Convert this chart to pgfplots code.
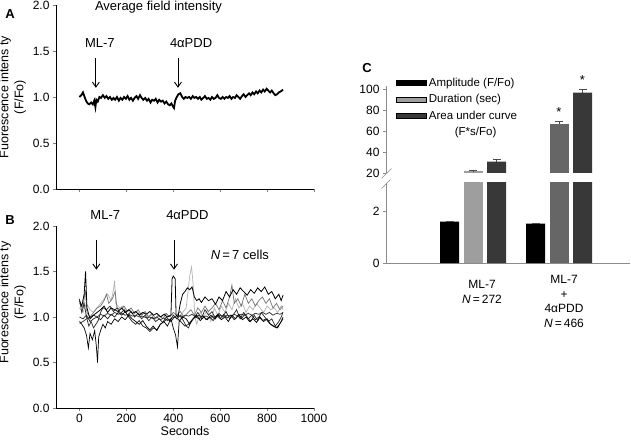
\documentclass[border=0pt]{standalone}
\usepackage{fontspec}
\setmainfont{Liberation Sans}
\usepackage{pgfplots}
\pgfplotsset{compat=1.18}
\usetikzlibrary{arrows.meta}
\pgfkeys{/pgf/number format/assume math mode=true}
\definecolor{durL}{gray}{0.62}
\definecolor{durD}{gray}{0.40}
\definecolor{aucC}{gray}{0.22}
\definecolor{axg}{gray}{0.55}
\newcommand\tf{\fontsize{12}{14}\selectfont}
\newcommand\af{\fontsize{13}{15}\selectfont}
\tikzset{arr/.style={-{Straight Barb[length=5pt,width=7pt]}, line width=0.9pt}}
\pgfplotsset{
  panelAB/.style={
    anchor=south west, scale only axis, width=258pt,
    axis x line*=bottom, axis y line*=left,
    xmin=-100, xmax=1000, ymin=0, ymax=2,
    xtick={0,200,...,1000}, ytick={0,0.5,...,2},
    tick align=outside, major tick length=3pt,
    tick label style={font=\tf},
    xticklabel style={/pgf/number format/1000 sep={}},
    yticklabel style={/pgf/number format/fixed, /pgf/number format/fixed zerofill, /pgf/number format/precision=1},
    ylabel={Fuorescence intens ty\\(F/Fo)},
    ylabel style={align=center, font=\fontsize{12.5}{15}\selectfont},
    clip=false,
  },
}
\begin{document}
\begin{tikzpicture}
\useasboundingbox (0pt,0pt) rectangle (631pt,442pt);
% ---------------- Panel A
\begin{axis}[panelAB, at={(56pt,253pt)}, height=184pt, xticklabels={,,,,,,}]
\addplot[black, line width=1.8pt] coordinates {
(0,1.00)(8,1.02)(15,1.05)(22,1.00)(28,0.96)(35,0.93)(42,0.92)(50,0.94)(57,0.92)(63,0.96)(68,0.89)(72,0.97)(78,0.95)(85,1.00)(92,0.99)(100,1.02)(108,0.99)(115,1.01)(123,0.98)(130,1.00)(138,0.97)(145,0.99)(152,0.97)(160,1.00)(168,0.96)(175,0.99)(183,0.97)(190,1.00)(198,0.98)(205,1.01)(213,0.97)(220,0.99)(228,0.96)(235,0.99)(243,1.01)(250,0.98)(258,1.02)(265,0.99)(272,0.97)(280,0.99)(288,0.96)(295,0.98)(303,0.94)(310,0.97)(318,0.96)(325,0.98)(333,0.94)(340,0.97)(348,0.95)(355,0.96)(363,0.93)(370,0.95)(378,0.92)(385,0.91)(392,0.93)(398,0.90)(403,0.88)(408,0.96)(415,1.00)(422,1.03)(430,1.04)(438,1.00)(445,0.98)(452,1.00)(460,0.99)(468,1.00)(475,0.98)(483,1.01)(490,0.99)(498,1.00)(505,0.98)(513,1.00)(520,0.97)(528,0.99)(535,1.01)(543,0.98)(550,0.99)(558,0.97)(565,1.00)(573,0.98)(580,0.99)(588,1.02)(595,0.99)(603,0.98)(610,1.00)(618,0.98)(625,1.00)(633,0.99)(640,1.01)(648,0.98)(655,1.00)(663,0.99)(670,1.02)(678,1.00)(685,0.98)(693,1.01)(700,1.03)(708,1.00)(715,1.02)(723,1.04)(730,1.02)(738,1.05)(745,1.03)(753,1.06)(760,1.04)(768,1.07)(775,1.05)(783,1.08)(790,1.06)(798,1.09)(805,1.07)(813,1.05)(820,1.07)(828,1.04)(835,1.02)(843,1.03)(850,1.05)(858,1.06)(868,1.08)
};
\node[font=\af] at (axis cs:337,1.98) {Average field intensity};
\node[font=\af] at (axis cs:87,1.59) {ML-7};
\node[font=\af] at (axis cs:476,1.59) {4αPDD};
\draw[arr] (axis cs:70,1.42) -- (axis cs:70,1.10);
\draw[arr] (axis cs:420,1.42) -- (axis cs:420,1.10);
\end{axis}
% ---------------- Panel B
\begin{axis}[panelAB, at={(56pt,34pt)}, height=182pt, xlabel={Seconds},
  xlabel style={font=\fontsize{12.5}{15}\selectfont, yshift=3pt},
  ylabel style={at={(ticklabel cs:0.58)}}]
% trace 2 (light gray)
\addplot[black!30, line width=0.7pt] coordinates {
(0,1.10)(15,1.05)(30,1.15)(45,1.08)(60,1.05)(75,1.10)(90,1.15)(105,1.20)(120,1.25)(135,1.18)(145,1.30)(150,1.40)(155,1.15)(170,1.10)(185,1.12)(200,1.05)(215,1.08)(230,1.03)(245,1.06)(260,1.02)(275,1.05)(290,1.00)(305,1.03)(320,0.98)(335,1.02)(350,1.00)(365,1.04)(380,1.01)(395,1.03)(410,1.00)(425,0.95)(440,1.05)(455,1.10)(470,1.45)(478,1.55)(485,1.35)(492,1.00)(500,0.92)(515,1.05)(530,1.00)(545,1.08)(560,0.95)(575,1.10)(590,1.02)(605,1.12)(620,1.05)(635,1.15)(650,1.08)(665,1.20)(680,1.10)(695,1.15)(710,1.05)(725,1.12)(740,1.08)(755,1.15)(770,1.10)(785,1.05)(800,1.12)(815,1.08)(830,1.10)(845,1.05)(860,1.12)(868,1.08)
};
% trace 6 (gray)
\addplot[black!55, line width=0.7pt] coordinates {
(0,1.15)(15,1.10)(25,1.30)(32,1.05)(45,1.00)(60,1.05)(75,1.10)(90,1.12)(105,1.18)(115,1.25)(125,1.15)(140,1.20)(152,1.28)(160,1.10)(175,1.08)(190,1.12)(205,1.06)(220,1.10)(235,1.04)(250,1.08)(265,1.02)(280,1.06)(295,1.00)(310,1.04)(325,0.98)(340,1.02)(355,0.98)(370,1.04)(385,1.00)(400,1.05)(415,1.02)(430,1.06)(445,1.00)(460,1.04)(475,1.08)(490,1.02)(505,1.10)(520,1.05)(535,1.12)(550,1.06)(565,1.10)(580,1.15)(595,1.08)(610,1.18)(625,1.10)(640,1.22)(650,1.35)(660,1.15)(675,1.20)(690,1.12)(705,1.25)(720,1.15)(735,1.20)(750,1.12)(765,1.18)(780,1.22)(795,1.15)(810,1.20)(825,1.10)(840,1.15)(855,1.08)(868,1.12)
};
% trace 4 (dark gray, smooth)
\addplot[black!75, line width=0.8pt] coordinates {
(0,0.93)(15,0.95)(30,0.98)(45,1.00)(60,1.02)(75,1.00)(90,1.03)(105,1.01)(120,1.04)(135,1.02)(150,1.05)(165,1.03)(180,1.04)(195,1.02)(210,1.03)(225,1.01)(240,1.02)(255,1.00)(270,1.01)(285,0.99)(300,1.00)(315,0.98)(330,1.00)(345,0.97)(360,0.99)(375,0.96)(390,0.98)(405,1.00)(420,1.02)(435,1.00)(450,1.02)(465,1.01)(480,1.03)(495,1.00)(510,1.02)(525,1.00)(540,1.01)(555,0.99)(570,1.01)(585,1.00)(600,1.02)(615,1.00)(630,1.02)(645,1.01)(660,1.03)(675,1.01)(690,1.03)(705,1.02)(720,1.04)(735,1.02)(750,1.04)(765,1.03)(780,1.05)(795,1.03)(810,1.05)(825,1.02)(840,1.04)(855,1.03)(868,1.05)
};
% trace 7
\addplot[black!90, line width=0.7pt] coordinates {
(0,1.00)(15,0.98)(30,1.02)(45,0.95)(60,0.98)(75,1.00)(90,0.97)(105,1.02)(120,0.98)(135,1.03)(150,1.00)(165,1.05)(180,1.02)(195,1.06)(210,1.00)(225,0.95)(240,0.92)(255,0.96)(270,0.90)(285,0.88)(300,0.84)(315,0.88)(330,0.86)(345,0.92)(360,0.95)(375,0.98)(390,0.95)(405,1.00)(420,0.98)(435,0.94)(450,0.90)(465,0.92)(480,0.97)(495,1.00)(510,0.98)(525,1.02)(540,0.97)(555,1.00)(570,0.96)(585,1.02)(600,0.98)(615,1.03)(630,0.99)(645,1.02)(660,0.97)(675,1.01)(690,0.98)(705,1.03)(720,0.98)(735,1.02)(750,0.97)(765,1.00)(780,0.96)(795,0.98)(810,0.93)(825,0.90)(840,0.88)(855,0.93)(868,0.98)
};
% trace 5
\addplot[black!85, line width=0.7pt] coordinates {
(0,1.20)(10,1.05)(20,1.15)(30,1.00)(40,0.90)(50,0.95)(60,0.88)(70,0.92)(80,0.96)(90,1.05)(100,1.10)(115,1.08)(130,1.12)(145,1.06)(160,1.10)(175,1.04)(190,1.08)(205,1.02)(220,1.06)(235,1.00)(250,1.04)(265,0.98)(280,1.02)(295,0.96)(310,1.00)(325,0.95)(340,0.98)(355,0.94)(370,1.00)(385,0.96)(400,1.02)(415,0.98)(430,1.02)(445,0.95)(455,0.90)(465,0.88)(475,0.95)(490,1.00)(505,1.05)(520,0.98)(535,1.08)(550,1.02)(565,1.06)(580,0.98)(595,1.04)(610,1.00)(625,1.06)(640,0.98)(655,1.02)(670,1.08)(685,0.98)(700,1.05)(715,1.00)(730,0.95)(745,1.02)(760,0.96)(775,1.05)(790,1.00)(805,0.95)(820,0.98)(835,0.90)(850,0.95)(860,1.00)(868,1.05)
};
% trace 3 (deep dips)
\addplot[black, line width=0.7pt] coordinates {
(0,0.95)(10,0.92)(20,0.88)(30,0.80)(38,0.66)(45,0.82)(55,0.75)(65,0.85)(72,0.68)(77,0.50)(82,0.78)(90,0.85)(100,0.92)(110,0.88)(120,0.95)(135,0.92)(150,0.98)(165,0.95)(180,1.00)(195,0.97)(210,1.02)(225,0.98)(240,0.95)(255,0.92)(270,0.96)(285,0.90)(300,0.86)(315,0.90)(330,0.85)(345,0.92)(360,0.95)(375,0.90)(390,0.98)(400,0.88)(410,0.80)(418,0.67)(425,0.95)(440,1.00)(455,0.98)(470,0.92)(485,0.98)(500,1.02)(515,0.96)(530,1.00)(545,0.97)(560,1.02)(575,0.98)(590,1.03)(605,0.97)(620,1.00)(635,0.95)(650,1.02)(665,0.98)(680,1.03)(695,0.97)(710,1.00)(725,0.95)(740,0.98)(755,0.94)(770,1.00)(785,0.95)(800,0.98)(815,0.92)(830,0.90)(845,0.88)(860,0.95)(868,1.00)
};
% trace 1 (elevated after 4aPDD)
\addplot[black, line width=0.8pt] coordinates {
(0,1.18)(10,1.12)(20,1.25)(26,1.50)(32,1.10)(45,0.98)(60,1.02)(75,1.05)(90,1.08)(105,1.12)(120,1.05)(135,1.10)(150,1.08)(165,1.06)(180,1.10)(195,1.05)(210,1.08)(225,1.04)(240,1.06)(255,1.02)(270,1.05)(285,1.03)(300,1.06)(315,1.02)(330,1.04)(345,1.00)(360,1.03)(375,1.00)(390,1.02)(395,1.42)(400,1.45)(408,1.42)(412,1.02)(420,1.00)(430,1.15)(440,1.25)(450,1.28)(460,1.32)(470,1.30)(480,1.33)(490,1.22)(500,1.18)(510,1.20)(520,1.16)(535,1.22)(550,1.18)(565,1.20)(580,1.14)(595,1.22)(610,1.18)(625,1.28)(640,1.22)(655,1.30)(670,1.25)(685,1.32)(700,1.28)(715,1.24)(730,1.30)(745,1.26)(760,1.32)(775,1.28)(790,1.33)(805,1.25)(820,1.28)(835,1.20)(850,1.25)(860,1.18)(868,1.24)
};
\node[font=\af] at (axis cs:110,2.12) {ML-7};
\node[font=\af] at (axis cs:460,2.12) {4αPDD};
\node[font=\af] at (axis cs:684,1.68) {\textit{N}\,=\,7 cells};
\draw[arr] (axis cs:72,1.85) -- (axis cs:72,1.52);
\draw[arr] (axis cs:403,1.85) -- (axis cs:403,1.52);
\end{axis}
% ---------------- Panel C, lower part
\begin{axis}[anchor=south west, at={(386pt,179pt)}, scale only axis, width=244pt, height=80pt,
  xmin=386, xmax=630, ymin=0, ymax=3.077,
  axis x line*=bottom, axis y line*=left,
  axis line style={axg, line width=0.5pt},
  ytick={0,2}, xtick={482,564},
  xticklabels={{\rule{0pt}{13pt}ML-7\\\textit{N}\,=\,272},{ML-7\\+\\4αPDD\\\textit{N}\,=\,466}},
  xticklabel style={align=center, font=\fontsize{12}{14.5}\selectfont, yshift=-6pt},
  xtick style={draw=none},
  ytick style={axg}, tick align=outside, major tick length=3pt,
  yticklabel style={font=\tf},
  error bars/error bar style={black!70}, error bars/error mark options={black!70, rotate=90, mark size=4pt}]
\addplot[ybar, bar width=19, fill=black, draw=none,
  error bars/.cd, y dir=plus, y explicit] coordinates {(449.5,1.59) +- (0,0.02) (535.5,1.51) +- (0,0.02)};
\addplot[ybar, bar width=19, fill=durL, draw=none] coordinates {(473,21.5)};
\addplot[ybar, bar width=19, fill=durD, draw=none] coordinates {(559,67)};
\addplot[ybar, bar width=19, fill=aucC, draw=none] coordinates {(496.5,30.8) (582.5,96.6)};
\end{axis}
% ---------------- Panel C, upper part
\begin{axis}[anchor=south west, at={(386pt,269pt)}, scale only axis, width=244pt, height=87pt,
  xmin=386, xmax=630, ymin=20, ymax=103,
  axis x line=none, axis y line*=left,
  axis line style={axg, line width=0.5pt},
  ytick={20,40,...,100}, xtick=\empty,
  ytick style={axg}, tick align=outside, major tick length=3pt,
  yticklabel style={font=\tf},
  clip mode=individual,
  error bars/error bar style={black!70}, error bars/error mark options={black!70, rotate=90, mark size=4pt},
  legend image code/.code={\fill[#1] (0pt,-2.5pt) rectangle (30pt,2.5pt);},
  legend cell align=left,
  legend style={draw=none, fill=none, inner sep=0pt, anchor=north west, at={(0.042,1.115)},
    font=\fontsize{11.5}{13.5}\selectfont, row sep=2.5pt,
    /tikz/every even column/.append style={column sep=4pt}}]
\addlegendimage{fill=black}\addlegendentry{Amplitude (F/Fo)}
\addlegendimage{fill=durL}\addlegendentry{Duration (sec)}
\addlegendimage{fill=aucC}\addlegendentry{Area under curve}
\addlegendimage{empty legend}\addlegendentry{\hspace*{26pt}(F*s/Fo)}
\addplot[ybar, bar width=19, fill=durL, draw=none,
  error bars/.cd, y dir=plus, y explicit] coordinates {(473,21.5) +- (0,0.8)};
\addplot[ybar, bar width=19, fill=durD, draw=none,
  error bars/.cd, y dir=plus, y explicit] coordinates {(559,67) +- (0,2.5)};
\addplot[ybar, bar width=19, fill=aucC, draw=none,
  error bars/.cd, y dir=plus, y explicit] coordinates {(496.5,30.8) +- (0,2.5) (582.5,96.6) +- (0,3.3)};
\node[font=\fontsize{13}{15}\selectfont] at (axis cs:559,78) {*};
\node[font=\fontsize{13}{15}\selectfont] at (axis cs:582.5,108.5) {*};
\end{axis}
% axis break marks
\draw[axg, line width=0.5pt] (381.5pt,263.5pt) -- (391.5pt,273.5pt);
\draw[axg, line width=0.5pt] (381.5pt,253.5pt) -- (390.5pt,262.5pt);
% panel letters
\node[font=\bfseries\fontsize{13}{15}\selectfont] at (10pt,428pt) {A};
\node[font=\bfseries\fontsize{13}{15}\selectfont] at (10pt,222pt) {B};
\node[font=\bfseries\fontsize{13}{15}\selectfont] at (367pt,374pt) {C};
\end{tikzpicture}
\end{document}
